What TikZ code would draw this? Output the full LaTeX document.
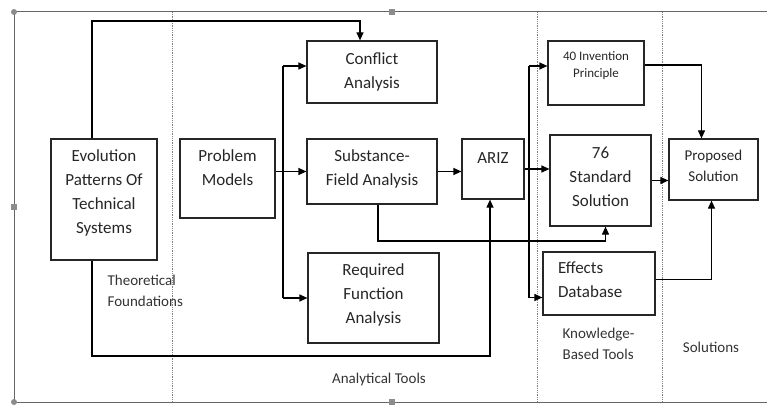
\documentclass[tikz,border=0pt]{standalone}
\usepackage{fontspec}
\setmainfont{Carlito}
\usetikzlibrary{arrows.meta}
\tikzset{
  box/.style={draw=black!85,line width=1.2pt,inner sep=0pt},
  intxt/.style={anchor=north,align=center,inner sep=0pt,yshift=-11pt,text=black!85,font=\fontsize{17}{24}\selectfont},
  sidetxt/.style={inner sep=0pt,align=left,text=black!80,font=\fontsize{15}{21}\selectfont}
}
\begin{document}
\begin{tikzpicture}[x=1pt,y=-1pt,>={Triangle[length=8pt,width=7pt]},line width=1.2pt]
\useasboundingbox (0,0) rectangle (767,406);
% frame, handles and column rules
\draw[black!60,line width=1pt] (767,12)--(14,12)--(14,402)--(767,402);
\foreach \x in {172,537,662}
  \draw[black!50,densely dotted,line width=0.8pt] (\x,12)--(\x,402);
\foreach \p in {(392,12),(14,207),(392,402)}
  \fill[black!45] \p ++(-3,-3) rectangle ++(6,6);
\fill[black!45] (14,12) circle (3pt) (14,402) circle (3pt);
% boxes
\node[box,minimum width=106pt,minimum height=121pt,label={[intxt]north:Evolution\\Patterns Of\\Technical\\Systems}] (evo) at (104,199.5) {};
\node[box,minimum width=95pt,minimum height=79pt,label={[intxt]north:Problem\\Models}] (prob) at (227.5,178.5) {};
\node[box,minimum width=130pt,minimum height=62pt,label={[intxt,yshift=-1pt]north:Conflict\\Analysis}] (conf) at (372,72) {};
\node[box,minimum width=130pt,minimum height=65pt,label={[intxt]north:Substance-\\Field Analysis}] (sfa) at (372,171.5) {};
\node[box,minimum width=131pt,minimum height=90pt,label={[intxt]north:Required\\Function\\Analysis}] (rfa) at (373.5,298) {};
\node[box,minimum width=62pt,minimum height=60pt,label={[intxt,yshift=-2.5pt]north:ARIZ}] (ariz) at (493,169) {};
\node[box,minimum width=96pt,minimum height=64pt,label={[intxt,yshift=0.5pt,font=\fontsize{13}{17}\selectfont]north:40 Invention\\Principle}] (inv) at (596,73) {};
\node[box,minimum width=101pt,minimum height=91pt,label={[intxt,yshift=-1pt]north:76\\Standard\\Solution}] (std) at (600.5,180.5) {};
\node[box,minimum width=112pt,minimum height=63pt,label={[intxt,anchor=north west,align=left,xshift=15pt,yshift=1pt]north west:Effects\\Database}] (eff) at (599,283.5) {};
\node[box,minimum width=89pt,minimum height=61pt,label={[intxt,font=\fontsize{15}{21}\selectfont]north:Proposed\\Solution}] (prop) at (713.5,169.5) {};
% column titles
\node[sidetxt,anchor=north west] (theo) at (107,274) {Theoretical\\Foundations};
\node[sidetxt] (anal) at (379,379) {Analytical Tools};
\node[sidetxt,anchor=west] (know) at (562,343.5) {Knowledge-\\Based Tools};
\node[sidetxt] (sol) at (711,347) {Solutions};
% connectors
\path (283,174) coordinate (split1) (529,169) coordinate (split2)
  (92,21) coordinate (evotop) (92,356) coordinate (evobot) (378,241) coordinate (sfabot)
  ([yshift=6pt]conf.west) coordinate (confin) ([yshift=7pt]inv.west) coordinate (invin)
  ([yshift=-14pt]eff.west) coordinate (effin);
\draw[->] (evotop |- evo.north) -- (evotop) -| ([xshift=-12pt]conf.north);
\draw[->] (evotop |- evo.south) -- (evobot) -| ([xshift=-3pt]ariz.south);
\draw[->] (sfa.west -| prob.east) -- (sfa.west);
\draw (split1 |- confin) edge[->] (confin) -- (split1 |- rfa.west) edge[->] (rfa.west);
\draw[->] (sfa.east) -- (sfa.east -| ariz.west);
\draw[->] (sfabot |- sfa.south) -- (sfabot) -| ([xshift=5pt]std.south);
\draw[->] (ariz.east) -- (ariz.east -| std.west);
\draw (split2 |- invin) edge[->] (invin) -- (split2 |- effin) edge[->] (effin);
\draw[->] ([yshift=8pt]inv.east) -| ([xshift=-12pt]prop.north);
\draw[->] (std.east) -- (std.east -| prop.west);
\draw[->] ([yshift=4pt]eff.east) -| ([xshift=-2pt]prop.south);
\end{tikzpicture}
\end{document}
